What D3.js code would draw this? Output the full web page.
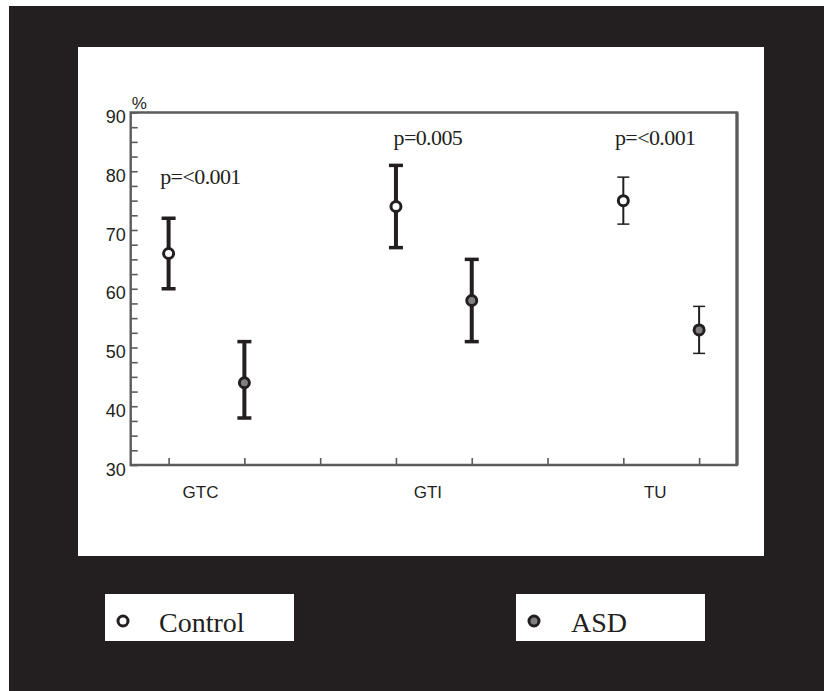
<!DOCTYPE html>
<html>
<head>
<meta charset="utf-8">
<script src="https://cdn.jsdelivr.net/npm/d3@7"></script>
<style>
  body { margin: 0; background: #fff; }
  svg { display: block; }
</style>
</head>
<body>
<script>
const width = 824,
      height = 691;

// data
const groups = ["GTC", "GTI", "TU"];
const controlMean = [66, 74, 75];
const controlLow = [60, 67, 71];
const controlHigh = [72, 81, 79];
const asdMean = [44, 58, 53];
const asdLow = [38, 51, 49];
const asdHigh = [51, 65, 57];
const pValues = ["p=<0.001", "p=0.005", "p=<0.001"];
const pLabelAt = [77.8, 84.5, 84.5];
const yTicks = [30, 40, 50, 60, 70, 80, 90];
const seriesNames = ["Control", "ASD"];

// styling
const ink = "#231f20",
      axisColor = "#5b5b5b",
      asdFill = "#808080";
const errStroke = [4, 4, 2],
      capWidth = [14, 14, 12];

function drawChart() {
    let svg = d3.select("body")
        .append("svg")
        .attr("width", width)
        .attr("height", height);

    // dark frame + white panel
    svg.append("rect")
        .attr("x", 9).attr("y", 6)
        .attr("width", width - 9).attr("height", height - 6)
        .attr("fill", ink);
    svg.append("rect")
        .attr("x", 78).attr("y", 47)
        .attr("width", 686).attr("height", 509)
        .attr("fill", "#fff");

    let left = 130.7, right = 737, top = 112.5, bottom = 465;

    // two points per group plus a separator tick between groups
    let x = d3.scalePoint()
        .domain(d3.range(groups.length * 3 - 1))
        .range([left, right])
        .padding(0.5);
    let y = d3.scaleLinear().domain([30, 90]).range([bottom, top]);

    // minor ticks on the y axis, pointing inward
    let yAxis = d3.axisRight(y)
        .tickValues(d3.range(30, 90.1, 2.5))
        .tickSize(7)
        .tickFormat("");
    let gy = svg.append("g")
        .attr("class", "y axis")
        .attr("transform", "translate(" + left + ",0)")
        .call(yAxis);
    gy.select(".domain").remove();
    gy.selectAll("line").attr("stroke", axisColor).attr("stroke-width", 1.6);

    let xAxis = d3.axisTop(x).tickSize(7).tickFormat("");
    let gx = svg.append("g")
        .attr("class", "x axis")
        .attr("transform", "translate(0," + bottom + ")")
        .call(xAxis);
    gx.select(".domain").remove();
    gx.selectAll("line").attr("stroke", axisColor).attr("stroke-width", 1.6);

    // box
    svg.append("path")
        .attr("d", "M" + left + "," + top + "H" + right + "V" + bottom + "H" + left + "Z")
        .attr("fill", "none")
        .attr("stroke", axisColor)
        .attr("stroke-width", 2.4);
    svg.append("line")
        .attr("x1", right).attr("x2", right)
        .attr("y1", top).attr("y2", bottom)
        .attr("stroke", axisColor)
        .attr("stroke-width", 3.2);

    svg.selectAll(".ylab")
        .data(yTicks)
        .enter().append("text")
        .attr("class", "ylab")
        .attr("x", left - 5)
        .attr("y", function(d) {return y(d) + 10.5;})
        .attr("text-anchor", "end")
        .style("font-family", "'Liberation Sans', Arial, sans-serif")
        .style("font-size", "18px")
        .attr("fill", ink)
        .text(function(d) {return d;});

    svg.append("text")
        .attr("x", left + 1)
        .attr("y", top - 4)
        .style("font-family", "'Liberation Sans', Arial, sans-serif")
        .style("font-size", "17px")
        .attr("fill", ink)
        .text("%");

    // group labels under each pair
    svg.selectAll(".xlab")
        .data(groups)
        .enter().append("text")
        .attr("class", "xlab")
        .attr("x", function(d, i) {return (x(i * 3) + x(i * 3 + 1)) / 2 - 6;})
        .attr("y", bottom + 33)
        .attr("text-anchor", "middle")
        .style("font-family", "'Liberation Sans', Arial, sans-serif")
        .style("font-size", "17px")
        .attr("fill", ink)
        .text(function(d) {return d;});

    // p values
    svg.selectAll(".pval")
        .data(pValues)
        .enter().append("text")
        .attr("class", "pval")
        .attr("x", function(d, i) {return (x(i * 3) + x(i * 3 + 1)) / 2 - 6;})
        .attr("y", function(d, i) {return y(pLabelAt[i]);})
        .attr("text-anchor", "middle")
        .style("font-family", "'Liberation Serif', 'Times New Roman', serif")
        .style("font-size", "22px")
        .style("letter-spacing", "-0.6px")
        .attr("fill", ink)
        .text(function(d) {return d;});

    let points = [];
    groups.forEach(function(g, i) {
        points.push({pos: i * 3, mean: controlMean[i], lo: controlLow[i], hi: controlHigh[i], fill: "#fff", g: i});
        points.push({pos: i * 3 + 1, mean: asdMean[i], lo: asdLow[i], hi: asdHigh[i], fill: asdFill, g: i});
    });

    let bars = svg.selectAll(".err")
        .data(points)
        .enter().append("g")
        .attr("class", "err");

    bars.append("line")
        .attr("x1", function(d) {return x(d.pos);})
        .attr("x2", function(d) {return x(d.pos);})
        .attr("y1", function(d) {return y(d.lo);})
        .attr("y2", function(d) {return y(d.hi);})
        .attr("stroke", ink)
        .attr("stroke-width", function(d) {return errStroke[d.g];});

    ["lo", "hi"].forEach(function(k) {
        bars.append("line")
            .attr("x1", function(d) {return x(d.pos) - capWidth[d.g] / 2;})
            .attr("x2", function(d) {return x(d.pos) + capWidth[d.g] / 2;})
            .attr("y1", function(d) {return y(d[k]);})
            .attr("y2", function(d) {return y(d[k]);})
            .attr("stroke", ink)
            .attr("stroke-width", function(d) {return errStroke[d.g] - 0.5;});
    });

    bars.append("circle")
        .attr("cx", function(d) {return x(d.pos);})
        .attr("cy", function(d) {return y(d.mean);})
        .attr("r", 5)
        .attr("fill", function(d) {return d.fill;})
        .attr("stroke", ink)
        .attr("stroke-width", 3);

    // legend boxes
    let legendX = [105, 516];
    let legendFill = ["#fff", asdFill];
    seriesNames.forEach(function(name, i) {
        let lg = svg.append("g")
            .attr("transform", "translate(" + legendX[i] + ",594)");
        lg.append("rect")
            .attr("width", 189).attr("height", 47)
            .attr("fill", "#fff");
        lg.append("circle")
            .attr("cx", 18).attr("cy", 27)
            .attr("r", 5)
            .attr("fill", legendFill[i])
            .attr("stroke", ink)
            .attr("stroke-width", 3);
        lg.append("text")
            .attr("x", 54 + (i === 1 ? 1 : 0))
            .attr("y", 38)
            .style("font-family", "'Liberation Serif', 'Times New Roman', serif")
            .style("font-size", "28px")
            .attr("fill", ink)
            .text(name);
    });
}

window.onload = drawChart;
</script>
</body>
</html>
